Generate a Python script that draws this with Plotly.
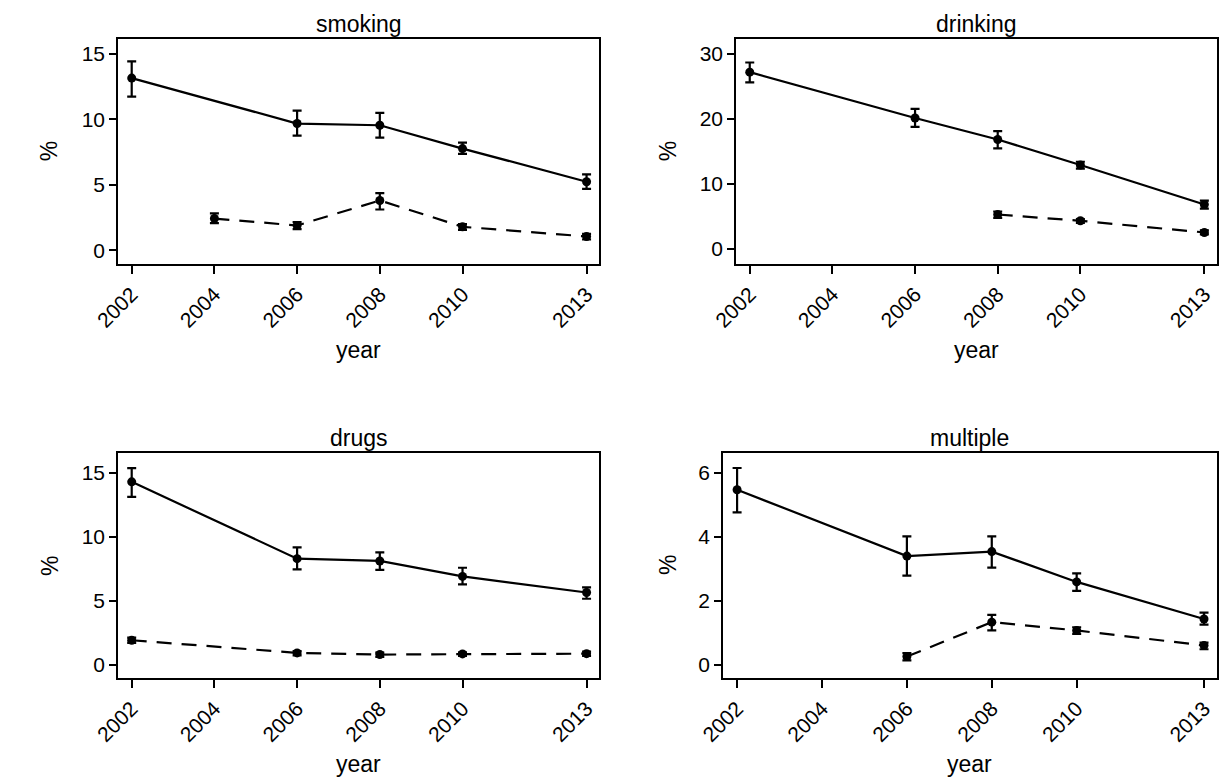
import plotly.graph_objects as go

W, H = 1219, 780

years_ticks = [2002, 2004, 2006, 2008, 2010, 2013]

# ---- smoking ----
smk_solid_x = [2002, 2006, 2008, 2010, 2013]
smk_solid_y = [13.14, 9.67, 9.54, 7.76, 5.23]
smk_solid_hi = [14.41, 10.66, 10.48, 8.21, 5.79]
smk_solid_lo = [11.73, 8.75, 8.60, 7.35, 4.69]
smk_dash_x = [2004, 2006, 2008, 2010, 2013]
smk_dash_y = [2.42, 1.89, 3.80, 1.79, 1.05]
smk_dash_hi = [2.81, 2.14, 4.36, 1.99, 1.25]
smk_dash_lo = [2.07, 1.61, 3.11, 1.56, 0.82]

# ---- drinking ----
drk_solid_x = [2002, 2006, 2008, 2010, 2013]
drk_solid_y = [27.19, 20.15, 16.84, 12.91, 6.84]
drk_solid_hi = [28.67, 21.53, 18.11, 13.42, 7.45]
drk_solid_lo = [25.61, 18.78, 15.46, 12.35, 6.22]
drk_dash_x = [2008, 2010, 2013]
drk_dash_y = [5.31, 4.34, 2.55]
drk_dash_hi = [5.77, 4.60, 2.86]
drk_dash_lo = [4.80, 4.03, 2.24]

# ---- drugs ----
drg_solid_x = [2002, 2006, 2008, 2010, 2013]
drg_solid_y = [14.32, 8.30, 8.12, 6.91, 5.65]
drg_solid_hi = [15.39, 9.19, 8.80, 7.59, 6.05]
drg_solid_lo = [13.14, 7.46, 7.43, 6.28, 5.16]
drg_dash_x = [2002, 2006, 2008, 2010, 2013]
drg_dash_y = [1.91, 0.92, 0.79, 0.84, 0.86]
drg_dash_hi = [2.12, 1.07, 0.94, 0.97, 1.02]
drg_dash_lo = [1.70, 0.73, 0.60, 0.68, 0.68]

# ---- multiple ----
mul_solid_x = [2002, 2006, 2008, 2010, 2013]
mul_solid_y = [5.48, 3.40, 3.54, 2.59, 1.43]
mul_solid_hi = [6.16, 4.02, 4.02, 2.86, 1.63]
mul_solid_lo = [4.77, 2.79, 3.04, 2.31, 1.25]
mul_dash_x = [2006, 2008, 2010, 2013]
mul_dash_y = [0.25, 1.33, 1.07, 0.60]
mul_dash_hi = [0.36, 1.56, 1.17, 0.69]
mul_dash_lo = [0.13, 1.07, 0.96, 0.48]

panel_titles = ["smoking", "drinking", "drugs", "multiple"]
y_ticks = [[0, 5, 10, 15], [0, 10, 20, 30], [0, 5, 10, 15], [0, 2, 4, 6]]
y_ranges = [[-1.05, 16.1], [-2.3, 32.24], [-1.07, 16.6], [-0.43, 6.64]]
x_range = [2001.67, 2013.3]

# panel boxes in pixels: (left, right, top, bottom)
boxes = [(95, 586, 39.3, 264), (726, 1216.7, 39.3, 264),
         (95, 586, 452.7, 678.3), (712.7, 1216.7, 452.7, 678.3)]
pct_x = [24, 656, 25, 656]

series = [
    [(smk_solid_x, smk_solid_y, smk_solid_hi, smk_solid_lo, "solid"),
     (smk_dash_x, smk_dash_y, smk_dash_hi, smk_dash_lo, "15px,10px")],
    [(drk_solid_x, drk_solid_y, drk_solid_hi, drk_solid_lo, "solid"),
     (drk_dash_x, drk_dash_y, drk_dash_hi, drk_dash_lo, "15px,10px")],
    [(drg_solid_x, drg_solid_y, drg_solid_hi, drg_solid_lo, "solid"),
     (drg_dash_x, drg_dash_y, drg_dash_hi, drg_dash_lo, "15px,10px")],
    [(mul_solid_x, mul_solid_y, mul_solid_hi, mul_solid_lo, "solid"),
     (mul_dash_x, mul_dash_y, mul_dash_hi, mul_dash_lo, "15px,10px")],
]

FONT = "Liberation Sans, Arial, sans-serif"
fig = go.Figure()
annotations = []

for i in range(4):
    ax = "" if i == 0 else str(i + 1)
    l, r, t, b = boxes[i]
    for xs, ys, hi, lo, dash in series[i]:
        fig.add_trace(go.Scatter(
            x=xs, y=ys, mode="lines+markers",
            line=dict(color="black", width=2.2, dash=dash),
            marker=dict(color="black", size=9, symbol="circle"),
            error_y=dict(type="data", symmetric=False,
                         array=[h - v for h, v in zip(hi, ys)],
                         arrayminus=[v - lo_ for v, lo_ in zip(ys, lo)],
                         color="black", thickness=2.2, width=4.5),
            xaxis="x" + ax, yaxis="y" + ax, showlegend=False,
        ))
    fig.update_layout(**{
        "xaxis" + ax: dict(
            domain=[l / W, r / W], range=x_range, tickvals=years_ticks,
            ticktext=[str(v) for v in years_ticks], tickangle=-45,
            ticks="outside", ticklen=8, tickwidth=1.6, tickcolor="black",
            showline=True, linecolor="black", linewidth=1.7, mirror=True,
            showgrid=False, zeroline=False, anchor="y" + ax,
            tickfont=dict(size=21, color="black", family=FONT),
        ),
        "yaxis" + ax: dict(
            domain=[1 - b / H, 1 - t / H], range=y_ranges[i], tickvals=y_ticks[i],
            ticks="outside", ticklen=7, tickwidth=1.6, tickcolor="black",
            showline=True, linecolor="black", linewidth=1.7, mirror=True,
            showgrid=False, zeroline=False, anchor="x" + ax,
            tickfont=dict(size=21, color="black", family=FONT),
        ),
    })
    cx = (l + r) / 2
    annotations.append(dict(text=panel_titles[i], x=cx / W, y=1 - (t - 15) / H,
                            xref="paper", yref="paper", showarrow=False,
                            xanchor="center", yanchor="middle",
                            font=dict(size=23, color="black", family=FONT)))
    annotations.append(dict(text="year", x=cx / W, y=1 - (b + 86) / H,
                            xref="paper", yref="paper", showarrow=False,
                            xanchor="center", yanchor="middle",
                            font=dict(size=23, color="black", family=FONT)))
    annotations.append(dict(text="%", x=pct_x[i] / W, y=1 - ((t + b) / 2) / H,
                            xref="paper", yref="paper", showarrow=False,
                            textangle=-90, xanchor="center", yanchor="middle",
                            font=dict(size=23, color="black", family=FONT)))

fig.update_layout(
    width=W, height=H, margin=dict(l=0, r=0, t=0, b=0),
    paper_bgcolor="white", plot_bgcolor="white",
    annotations=annotations, showlegend=False,
)

fig.write_html(
    "out.html",
    config={"displayModeBar": False},
    post_script="document.body.style.margin='0';document.body.style.overflow='hidden';",
)
